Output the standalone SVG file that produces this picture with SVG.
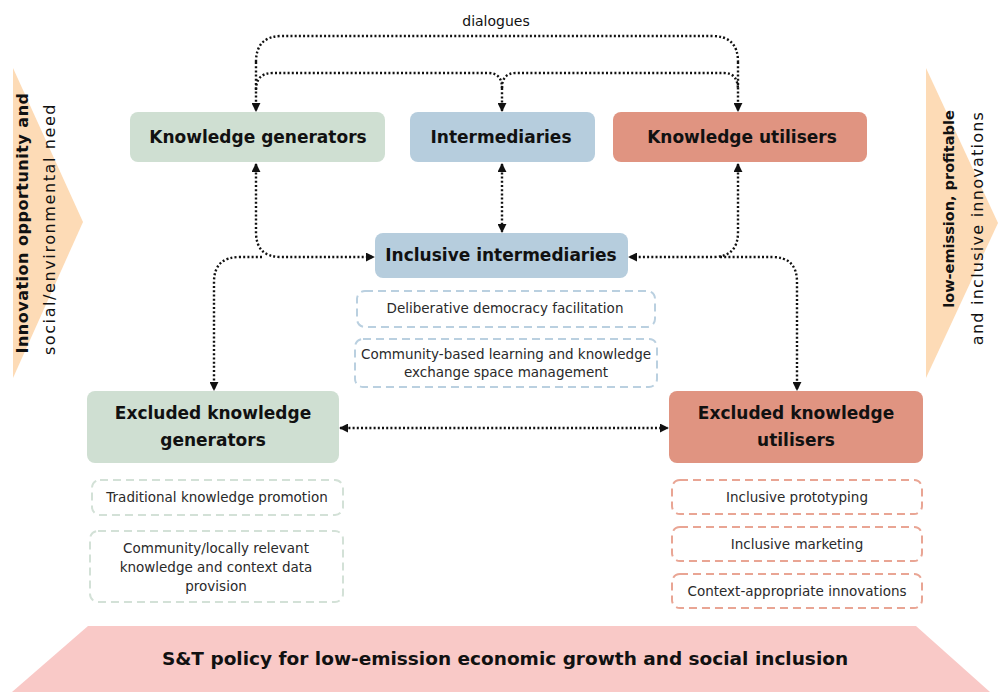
<svg xmlns="http://www.w3.org/2000/svg" width="1001" height="696" viewBox="0 0 1001 696">
  <defs>
    <marker id="arrow" viewBox="0 0 10 10" refX="9" refY="5" markerWidth="9" markerHeight="9" markerUnits="userSpaceOnUse" orient="auto-start-reverse">
      <path d="M0,0 L10,5 L0,10 Z" fill="#111"/>
    </marker>
    <style>
      .box-green { fill: #cfdfd2; }
      .box-blue { fill: #b6cddd; }
      .box-red { fill: #e09481; }
      .dash-green { fill: #fff; stroke: #d3e1d7; stroke-width: 2; stroke-dasharray: 8 5; }
      .dash-blue { fill: #fff; stroke: #bad0e0; stroke-width: 2; stroke-dasharray: 8 5; }
      .dash-red { fill: #fff; stroke: #e9a594; stroke-width: 2; stroke-dasharray: 8 5; }
      .title { font-family: "DejaVu Sans", "Liberation Sans", sans-serif; font-weight: bold; font-size: 17px; fill: #111; text-anchor: middle; }
      .banner { font-family: "DejaVu Sans", "Liberation Sans", sans-serif; font-weight: bold; font-size: 18.5px; fill: #111; text-anchor: middle; }
      .item { font-family: "DejaVu Sans", "Liberation Sans", sans-serif; font-size: 13.5px; fill: #2a2a2a; text-anchor: middle; }
      .side-b { font-family: "DejaVu Sans", "Liberation Sans", sans-serif; font-weight: bold; fill: #111; text-anchor: middle; }
      .side-r { font-family: "DejaVu Sans", "Liberation Sans", sans-serif; fill: #111; text-anchor: middle; }
      .link { fill: none; stroke: #111; stroke-width: 2.4; stroke-dasharray: 2 2.2; }
      .label { font-family: "DejaVu Sans", "Liberation Sans", sans-serif; font-size: 14px; fill: #111; text-anchor: middle; }
    </style>
  </defs>

  <!-- side arrows -->
  <g id="input-arrow">
    <polygon points="13,68 83,222 13,378" fill="#fddbb6"/>
    <text class="side-b" font-size="16" letter-spacing="0.5" transform="translate(28,223) rotate(-90)">Innovation opportunity and</text>
    <text class="side-r" font-size="16" letter-spacing="1.6" transform="translate(55,229) rotate(-90)">social/environmental need</text>
  </g>
  <g id="output-arrow">
    <polygon points="926,68 998,223 926,378" fill="#fddbb6"/>
    <text class="side-b" font-size="14.5" transform="translate(954,209) rotate(-90)">low-emission, profitable</text>
    <text class="side-r" font-size="16" letter-spacing="1.25" transform="translate(983,228) rotate(-90)">and inclusive innovations</text>
  </g>

  <!-- bottom policy banner -->
  <g id="policy">
    <polygon points="88,626 916,626 990,692 12,692" fill="#f9c9c7"/>
    <text class="banner" x="505" y="665">S&amp;T policy for low-emission economic growth and social inclusion</text>
  </g>

  <!-- connectors -->
  <g id="connectors">
    <text class="label" x="496" y="26">dialogues</text>
    <path class="link" d="M256,62 Q256,36 282,36 H712 Q738,36 738,62"/>
    <path class="link" d="M256,62 V111" marker-end="url(#arrow)"/>
    <path class="link" d="M738,62 V111" marker-end="url(#arrow)"/>
    <path class="link" d="M256,90 Q256,73 273,73 H488 Q502,73 502,88"/>
    <path class="link" d="M502,88 Q502,73 516,73 H724 Q738,73 738,90"/>
    <path class="link" d="M502,88 V111" marker-end="url(#arrow)"/>

    <path class="link" d="M502,164 V232" marker-start="url(#arrow)" marker-end="url(#arrow)"/>
    <path class="link" d="M256,164 V232 Q256,257 281,257 H374" marker-start="url(#arrow)" marker-end="url(#arrow)"/>
    <path class="link" d="M738,164 V232 Q738,257 713,257 H629" marker-start="url(#arrow)" marker-end="url(#arrow)"/>
    <path class="link" d="M262,257 H240 Q214,257 214,282 V390" marker-end="url(#arrow)"/>
    <path class="link" d="M720,257 H772 Q797,257 797,282 V390" marker-end="url(#arrow)"/>
    <path class="link" d="M340,428 H668" marker-start="url(#arrow)" marker-end="url(#arrow)"/>
  </g>

  <!-- top row -->
  <g id="knowledge-generators">
    <rect class="box-green" x="130" y="112" width="255" height="50" rx="8"/>
    <text class="title" x="258" y="143">Knowledge generators</text>
  </g>
  <g id="intermediaries">
    <rect class="box-blue" x="410" y="112" width="185" height="50" rx="8"/>
    <text class="title" x="501" y="143">Intermediaries</text>
  </g>
  <g id="knowledge-utilisers">
    <rect class="box-red" x="613" y="112" width="254" height="50" rx="8"/>
    <text class="title" x="742" y="143">Knowledge utilisers</text>
  </g>

  <!-- inclusive intermediaries and roles -->
  <g id="inclusive-intermediaries">
    <rect class="box-blue" x="375" y="233" width="253" height="45" rx="8"/>
    <text class="title" x="501" y="261">Inclusive intermediaries</text>
  </g>
  <g id="deliberative-democracy">
    <rect class="dash-blue" x="357" y="291" width="298" height="36" rx="8"/>
    <text class="item" x="505" y="313">Deliberative democracy facilitation</text>
  </g>
  <g id="community-learning">
    <rect class="dash-blue" x="355" y="339" width="302" height="48" rx="8"/>
    <text class="item" x="506" y="359">Community-based learning and knowledge</text>
    <text class="item" x="506" y="377">exchange space management</text>
  </g>

  <!-- excluded generators and roles -->
  <g id="excluded-generators">
    <rect class="box-green" x="87" y="391" width="252" height="72" rx="8"/>
    <text class="title" x="213" y="419">Excluded knowledge</text>
    <text class="title" x="213" y="446">generators</text>
  </g>
  <g id="traditional-knowledge">
    <rect class="dash-green" x="92" y="480" width="251" height="35" rx="8"/>
    <text class="item" x="217" y="502">Traditional knowledge promotion</text>
  </g>
  <g id="local-knowledge">
    <rect class="dash-green" x="90" y="531" width="253" height="71" rx="8"/>
    <text class="item" x="216" y="553">Community/locally relevant</text>
    <text class="item" x="216" y="572">knowledge and context data</text>
    <text class="item" x="216" y="591">provision</text>
  </g>

  <!-- excluded utilisers and roles -->
  <g id="excluded-utilisers">
    <rect class="box-red" x="669" y="391" width="254" height="72" rx="8"/>
    <text class="title" x="796" y="419">Excluded knowledge</text>
    <text class="title" x="796" y="446">utilisers</text>
  </g>
  <g id="inclusive-prototyping">
    <rect class="dash-red" x="672" y="480" width="250" height="34" rx="8"/>
    <text class="item" x="797" y="502">Inclusive prototyping</text>
  </g>
  <g id="inclusive-marketing">
    <rect class="dash-red" x="672" y="527" width="250" height="34" rx="8"/>
    <text class="item" x="797" y="549">Inclusive marketing</text>
  </g>
  <g id="context-innovations">
    <rect class="dash-red" x="672" y="574" width="250" height="34" rx="8"/>
    <text class="item" x="797" y="596">Context-appropriate innovations</text>
  </g>
</svg>
